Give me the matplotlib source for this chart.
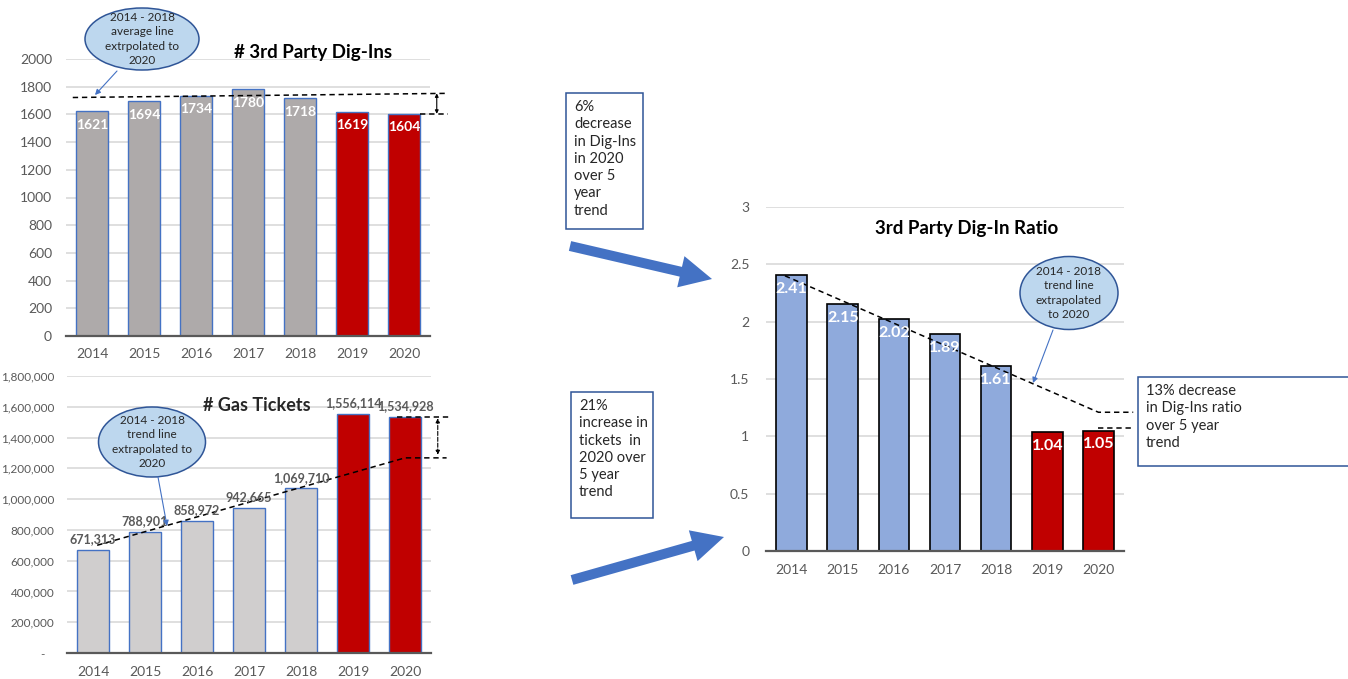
import matplotlib
matplotlib.use("Agg")
import matplotlib.pyplot as plt
from matplotlib.patches import Ellipse, Rectangle, FancyArrow
from matplotlib.ticker import FuncFormatter

plt.rcParams['font.family'] = ['Lato', 'DejaVu Sans']

# ---- data -------------------------------------------------------------
years = ['2014', '2015', '2016', '2017', '2018', '2019', '2020']
dig_ins = [1621, 1694, 1734, 1780, 1718, 1619, 1604]
gas_tickets = [671313, 788901, 858972, 942665, 1069710, 1556114, 1534928]
dig_ratio = [2.41, 2.15, 2.02, 1.89, 1.61, 1.04, 1.05]

# 2014-2018 reference lines extended to 2020
dig_avg_x = [-0.37, 6.85]
dig_avg_y = [1722, 1752]
ticket_trend_x = [0.08, 6.0, 6.8]
ticket_trend_y = [700000, 1268000, 1268000]
ratio_trend_x = [-0.13, 6.0, 6.68]
ratio_trend_y = [2.40, 1.21, 1.21]

W, H = 1348, 679
fig = plt.figure(figsize=(W / 100, H / 100), dpi=100)
fig.patch.set_facecolor('white')

GREY_TXT = '#595959'
GRID = '#D9D9D9'
RED = '#C00000'
BLUE_EDGE = '#4472C4'


def px_axes(left, top, right, bottom):
    return fig.add_axes([left / W, 1 - bottom / H, (right - left) / W, (bottom - top) / H])


def style_axes(ax, ymax, step, fmt, pad_y, ysize=10):
    ax.set_xlim(-0.5, len(years) - 0.5)
    ax.set_ylim(0, ymax)
    ax.set_yticks([i * step for i in range(int(round(ymax / step)) + 1)])
    ax.yaxis.set_major_formatter(FuncFormatter(fmt))
    ax.grid(axis='y', color=GRID, linewidth=1.2)
    ax.set_axisbelow(True)
    for s in ('top', 'right', 'left'):
        ax.spines[s].set_visible(False)
    ax.spines['bottom'].set_color('#595959')
    ax.spines['bottom'].set_linewidth(1.6)
    ax.tick_params(axis='both', length=0, labelsize=10, labelcolor=GREY_TXT)
    ax.tick_params(axis='y', pad=pad_y, labelsize=ysize)
    ax.tick_params(axis='x', pad=9)
    ax.set_xticks(range(len(years)))
    ax.set_xticklabels(years)


# ---- # 3rd Party Dig-Ins ---------------------------------------------
ax1 = px_axes(66, 59, 430, 336)
style_axes(ax1, 2000, 200, lambda v, p: f'{v:.0f}', 10)
cols1 = ['#AEAAAA'] * 5 + [RED] * 2
ax1.bar(range(7), dig_ins, width=0.6, color=cols1, edgecolor=BLUE_EDGE, linewidth=1)
for i, v in enumerate(dig_ins):
    ax1.text(i, v - 55, str(v), ha='center', va='top', color='white',
             fontsize=10, fontweight='bold')
ax1.text(4.25, 2045, '# 3rd Party Dig-Ins', ha='center', va='center',
         fontsize=13.5, fontweight='bold', color='black')
ax1.plot(dig_avg_x, dig_avg_y, ls=(0, (3.5, 2.5)), color='black', lw=1.1, clip_on=False)
ax1.plot([6.3, 6.85], [dig_ins[-1], dig_ins[-1]], ls=(0, (3.5, 2.5)), color='black',
         lw=1.1, clip_on=False)
ax1.annotate('', xy=(6.63, dig_ins[-1]), xytext=(6.63, dig_avg_y[-1]),
             arrowprops=dict(arrowstyle='<|-|>', color='black', lw=0.8,
                             mutation_scale=5, shrinkA=0, shrinkB=0),
             annotation_clip=False)

# ---- # Gas Tickets ------------------------------------------------------
ax2 = px_axes(67, 376, 431, 653)


def ticket_fmt(v, p):
    return '-   ' if v == 0 else f'{v:,.0f}'


style_axes(ax2, 1800000, 200000, ticket_fmt, 9, ysize=8.5)
cols2 = ['#D0CECE'] * 5 + [RED] * 2
ax2.bar(range(7), gas_tickets, width=0.6, color=cols2, edgecolor=BLUE_EDGE, linewidth=1)
for i, v in enumerate(gas_tickets):
    ax2.text(i, v + 30000, f'{v:,}', ha='center', va='bottom', color=GREY_TXT,
             fontsize=9, fontweight='bold')
ax2.text(3.15, 1611000, '# Gas Tickets', ha='center', va='center',
         fontsize=13, fontweight='bold', color='#262626')
ax2.plot(ticket_trend_x, ticket_trend_y, ls=(0, (3.5, 2.5)), color='black', lw=1.1,
         clip_on=False)
ax2.plot([5.85, 6.85], [gas_tickets[-1], gas_tickets[-1]], ls=(0, (3.5, 2.5)),
         color='black', lw=1.1, clip_on=False)
ax2.annotate('', xy=(6.63, ticket_trend_y[-1] + 20000), xytext=(6.63, gas_tickets[-1] - 10000),
             arrowprops=dict(arrowstyle='<|-|>', color='black', lw=0.8, ls='--',
                             mutation_scale=6, shrinkA=0, shrinkB=0),
             annotation_clip=False)

# ---- 3rd Party Dig-In Ratio --------------------------------------------
ax3 = px_axes(766, 207, 1124, 551)
style_axes(ax3, 3, 0.5, lambda v, p: f'{v:g}', 12)
cols3 = ['#8FAADC'] * 5 + [RED] * 2
ax3.bar(range(7), dig_ratio, width=0.6, color=cols3, edgecolor='black', linewidth=1.2)
for i, v in enumerate(dig_ratio):
    ax3.text(i, v - 0.06, f'{v:.2f}', ha='center', va='top', color='white',
             fontsize=11.5, fontweight='bold')
ax3.text(3.43, 2.81, '3rd Party Dig-In Ratio', ha='center', va='center',
         fontsize=13.5, fontweight='bold', color='black')
ax3.plot(ratio_trend_x, ratio_trend_y, ls=(0, (3.5, 2.5)), color='black', lw=1.1,
         clip_on=False)
ax3.plot([6.0, 6.68], [dig_ratio[-1] + 0.02] * 2, ls=(0, (3.5, 2.5)), color='black',
         lw=1.1, clip_on=False)

# ---- overlay in pixel units for callouts and connecting arrows ----------
ov = fig.add_axes([0, 0, 1, 1])
ov.set_xlim(0, W)
ov.set_ylim(H, 0)
ov.axis('off')
ov.patch.set_alpha(0)

CALLOUT_FILL = '#BDD7EE'
CALLOUT_EDGE = '#2F5597'


def callout(cx, cy, w, h, text, tail, tip):
    ov.add_patch(Ellipse((cx, cy), w, h, facecolor=CALLOUT_FILL,
                         edgecolor=CALLOUT_EDGE, lw=1.1))
    ov.text(cx, cy, text, ha='center', va='center', fontsize=8.5,
            color='#262626', linespacing=1.35)
    ov.annotate('', xy=tip, xytext=tail,
                arrowprops=dict(arrowstyle='-|>', color=BLUE_EDGE, lw=0.8,
                                mutation_scale=8, shrinkA=0, shrinkB=0))


callout(142, 39, 114, 62, '2014 - 2018\naverage line\nextrpolated to\n2020',
        (117, 71), (95, 95))
callout(152, 442, 107, 70, '2014 - 2018\ntrend line\nextrapolated to\n2020',
        (158, 477), (167, 526))
callout(1069, 293, 98, 73, '2014 - 2018\ntrend line\nextrapolated\nto 2020',
        (1053, 330), (1033, 383))


def note_box(x0, y0, x1, y1, text, pad=8):
    ov.add_patch(Rectangle((x0, y0), x1 - x0, y1 - y0, facecolor='white',
                           edgecolor=CALLOUT_EDGE, lw=1.1, clip_on=False))
    ov.text(x0 + pad, y0 + 7, text, ha='left', va='top', fontsize=10.5,
            color='#262626', linespacing=1.3)


note_box(566, 93, 643, 229, '6%\ndecrease\nin Dig-Ins\nin 2020\nover 5\nyear\ntrend')
note_box(571, 392, 653, 518, '21%\nincrease in\ntickets  in\n2020 over\n5 year\ntrend')
note_box(1138, 377, 1380, 466, '13% decrease\nin Dig-Ins ratio\nover 5 year\ntrend')

# connecting arrows towards the ratio chart
ARROW = '#4472C4'
ov.add_patch(FancyArrow(570, 246, 712 - 570, 279 - 246, width=10, head_width=32,
                        head_length=32, length_includes_head=True, color=ARROW, lw=0))
ov.add_patch(FancyArrow(572, 580, 724 - 572, 537 - 580, width=10, head_width=32,
                        head_length=32, length_includes_head=True, color=ARROW, lw=0))

fig.savefig('out.png', dpi=100, facecolor='white')
